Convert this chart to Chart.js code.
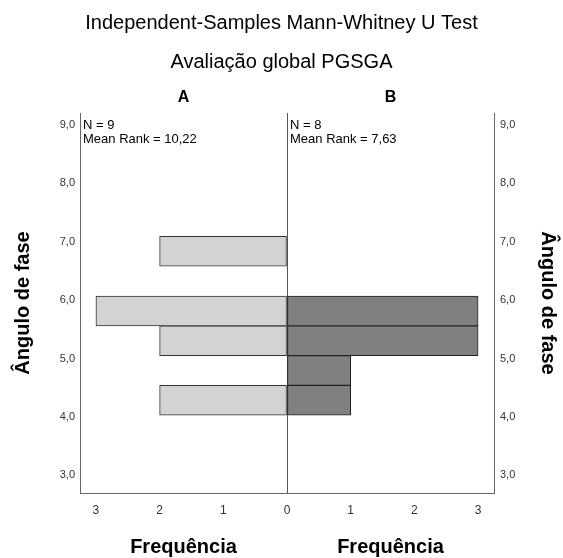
<!DOCTYPE html>
<html>
<head>
<meta charset="utf-8">
<script src="https://cdn.jsdelivr.net/npm/chart.js@4/dist/chart.umd.min.js"></script>
<style>
  html, body { margin: 0; padding: 0; background: #fff; }
</style>
</head>
<body>
<canvas id="chart" width="563" height="558"></canvas>
<script>
// histogram bins (centre of each bin on the "Ângulo de fase" axis)
const binCentres = [4.285, 4.795, 5.305, 5.815, 6.325, 6.835];
const countsA = [2, 0, 2, 3, 0, 2];
const countsB = [1, 1, 3, 3, 0, 0];
const freqTicks = [-3, -2, -1, 0, 1, 2, 3];
const angleTicks = [3, 4, 5, 6, 7, 8, 9];
const groupNames = ['A', 'B'];
const groupN = [9, 8];
const meanRanks = ['10,22', '7,63'];

const FONT = 'Arial, "Liberation Sans", sans-serif';

const toBars = (counts, side) => binCentres
  .map((centre, i) => ({ y: centre, x: side < 0 ? [-counts[i], 0] : [0, counts[i]] }))
  .filter((item, i) => counts[i] > 0);

const fixTicks = (values) => (scale) => {
  scale.ticks = values.map((value) => ({ value }));
};

const textPlugin = {
  id: 'spssText',
  afterDraw(chart) {
    const { ctx, chartArea } = chart;
    const xScale = chart.scales.x;
    const zero = xScale.getPixelForValue(0);
    const centres = [(chartArea.left + zero) / 2, (zero + chartArea.right) / 2];
    const midY = (chartArea.top + chartArea.bottom) / 2;

    ctx.save();
    ctx.fillStyle = '#000';
    ctx.textAlign = 'center';
    ctx.textBaseline = 'middle';

    ctx.font = `20px ${FONT}`;
    ctx.fillText('Independent-Samples Mann-Whitney U Test', chart.width / 2, 23);
    ctx.fillText('Avaliação global PGSGA', chart.width / 2, 62);

    ctx.font = `bold 16px ${FONT}`;
    groupNames.forEach((name, i) => ctx.fillText(name, centres[i], 98));

    ctx.font = `bold 20px ${FONT}`;
    centres.forEach((x) => ctx.fillText('Frequência', x, 547));

    ctx.save();
    ctx.translate(23, midY);
    ctx.rotate(-Math.PI / 2);
    ctx.fillText('Ângulo de fase', 0, 0);
    ctx.restore();

    ctx.save();
    ctx.translate(548, midY);
    ctx.rotate(Math.PI / 2);
    ctx.fillText('Ângulo de fase', 0, 0);
    ctx.restore();

    ctx.textAlign = 'left';
    ctx.textBaseline = 'alphabetic';
    ctx.font = `13px ${FONT}`;
    const lefts = [chartArea.left + 3, zero + 3];
    lefts.forEach((x, i) => {
      ctx.fillText(`N = ${groupN[i]}`, x, chartArea.top + 16);
      ctx.fillText(`Mean Rank = ${meanRanks[i]}`, x, chartArea.top + 30);
    });
    ctx.restore();
  }
};

new Chart(document.getElementById('chart'), {
  type: 'bar',
  data: {
    datasets: [
      {
        label: groupNames[0],
        data: toBars(countsA, -1),
        backgroundColor: '#d3d3d3',
        borderColor: '#333',
        borderWidth: 1,
        borderSkipped: false,
        grouped: false,
        barPercentage: 1,
        categoryPercentage: 1,
        yAxisID: 'y'
      },
      {
        label: groupNames[1],
        data: toBars(countsB, 1),
        backgroundColor: '#808080',
        borderColor: '#222',
        borderWidth: 1,
        borderSkipped: false,
        grouped: false,
        barPercentage: 1,
        categoryPercentage: 1,
        yAxisID: 'y'
      }
    ]
  },
  options: {
    indexAxis: 'y',
    responsive: false,
    animation: false,
    layout: { padding: { top: 113, left: 0, right: 0, bottom: 0 } },
    plugins: { legend: { display: false }, tooltip: { enabled: false } },
    scales: {
      x: {
        type: 'linear',
        min: -3.25,
        max: 3.25,
        afterBuildTicks: fixTicks(freqTicks),
        afterFit: (scale) => { scale.height = 65; },
        ticks: {
          callback: (value) => String(Math.abs(value)),
          color: '#333',
          font: { family: FONT, size: 12 },
          padding: 10,
          maxRotation: 0
        },
        grid: {
          drawTicks: false,
          lineWidth: 1,
          color: (ctx) => (ctx.tick && ctx.tick.value === 0 ? '#555' : 'rgba(0,0,0,0)')
        },
        border: { display: true, color: '#666', width: 1 }
      },
      y: {
        type: 'linear',
        position: 'left',
        min: 2.7,
        max: 9.2,
        offset: false,
        afterBuildTicks: fixTicks(angleTicks),
        afterFit: (scale) => { scale.width = 80; },
        ticks: {
          callback: (value) => value.toFixed(1).replace('.', ','),
          color: '#333',
          font: { family: FONT, size: 11 },
          padding: 5
        },
        grid: { display: false, drawTicks: false, offset: false },
        border: { display: true, color: '#666', width: 1 }
      },
      y2: {
        type: 'linear',
        position: 'right',
        min: 2.7,
        max: 9.2,
        offset: false,
        afterBuildTicks: fixTicks(angleTicks),
        afterFit: (scale) => { scale.width = 69; },
        ticks: {
          callback: (value) => value.toFixed(1).replace('.', ','),
          color: '#333',
          font: { family: FONT, size: 11 },
          padding: 6
        },
        grid: { display: false, drawTicks: false, offset: false },
        border: { display: true, color: '#666', width: 1 }
      }
    }
  },
  plugins: [textPlugin]
});
</script>
</body>
</html>
